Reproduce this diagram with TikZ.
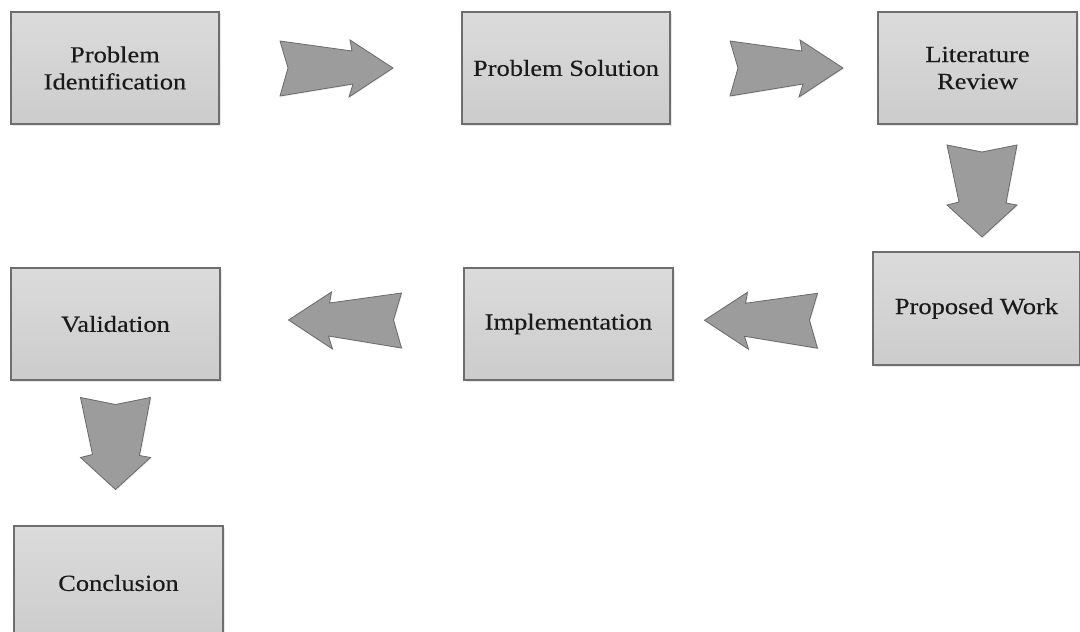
\documentclass[tikz,border=0pt]{standalone}
\usepackage{fontspec}
\setmainfont{Liberation Serif}[FakeStretch=1.15, FakeBold=0.35]
\usetikzlibrary{calc,shadows}

\definecolor{boxline}{HTML}{6E6E6E}
\definecolor{boxtop}{HTML}{DBDBDB}
\definecolor{boxbot}{HTML}{CCCCCC}
\definecolor{arrowfill}{HTML}{9C9C9C}
\definecolor{arrowline}{HTML}{6A6A6A}
\definecolor{txt}{HTML}{1A1A1A}

\tikzset{
  stepbox/.style={draw=boxline, line width=1.3pt, top color=boxtop, bottom color=boxbot,
    text=txt, align=center, inner sep=0pt, font=\fontsize{23}{27}\selectfont,
    drop shadow={opacity=0.18, shadow xshift=1.5pt, shadow yshift=-1.5pt}},
  blockarrow/.style={draw=arrowline, line width=0.8pt, fill=arrowfill, line join=miter,
    drop shadow={opacity=0.15, shadow xshift=1pt, shadow yshift=-1pt}},
  % block arrow pointing right, centred on the pic origin
  rarrow/.pic={\path[blockarrow] (-56.5,-27) -- (15.5,-17) -- (13.5,-28) -- (56.5,0)
      -- (12.5,29) -- (16.5,16) -- (-56.5,28) -- (-48.5,0) -- cycle;},
  % block arrow pointing left
  larrow/.pic={\path[blockarrow] (56.5,-27) -- (-15.5,-17) -- (-13.5,-28) -- (-56.5,0)
      -- (-12.5,29) -- (-16.5,16) -- (56.5,28) -- (48.5,0) -- cycle;},
  % block arrow pointing down
  darrow/.pic={\path[blockarrow] (-35,-46) -- (0,-39) -- (35,-46) -- (24,12) -- (35,14)
      -- (0,46) -- (-35,14) -- (-23,11) -- cycle;}
}

\begin{document}
\begin{tikzpicture}[x=1pt, y=-1pt]
  \useasboundingbox (0,0) rectangle (1080,632);
  \clip (0,0) rectangle (1080,632);

  % process steps
  \node[stepbox, minimum width=208pt, minimum height=112pt] (ident) at (115,68) {Problem\\Identification};
  \node[stepbox, minimum width=208pt, minimum height=112pt] (solution) at (566,68) {Problem Solution};
  \node[stepbox, minimum width=199pt, minimum height=112pt] (review) at (977.5,68) {Literature\\Review};
  \node[stepbox, minimum width=207pt, minimum height=113pt] (proposed) at (976.5,308.5) {Proposed Work};
  \node[stepbox, minimum width=209pt, minimum height=112pt] (impl) at (568.5,324) {Implementation};
  \node[stepbox, minimum width=209pt, minimum height=112pt] (valid) at (115.5,324) {Validation};
  \node[stepbox, minimum width=209pt, minimum height=114pt] (concl) at (118.5,583) {Conclusion};

  % block arrows between the steps
  \pic at ($(ident.east)!0.5!(solution.west)+(-4,0)$) {rarrow};
  \pic at ($(solution.east)!0.5!(review.west)+(12.5,0)$) {rarrow};
  \pic at ($(review.south)!0.5!(proposed.north)+(5,3)$) {darrow};
  \pic at ($(proposed.west)!0.5!(impl.east)+(-12,4)$) {larrow};
  \pic at ($(impl.west)!0.5!(valid.east)+(3,-4)$) {larrow};
  \pic at ($(valid.south)!0.5!(concl.north)+(-1.5,-9.5)$) {darrow};
\end{tikzpicture}
\end{document}
